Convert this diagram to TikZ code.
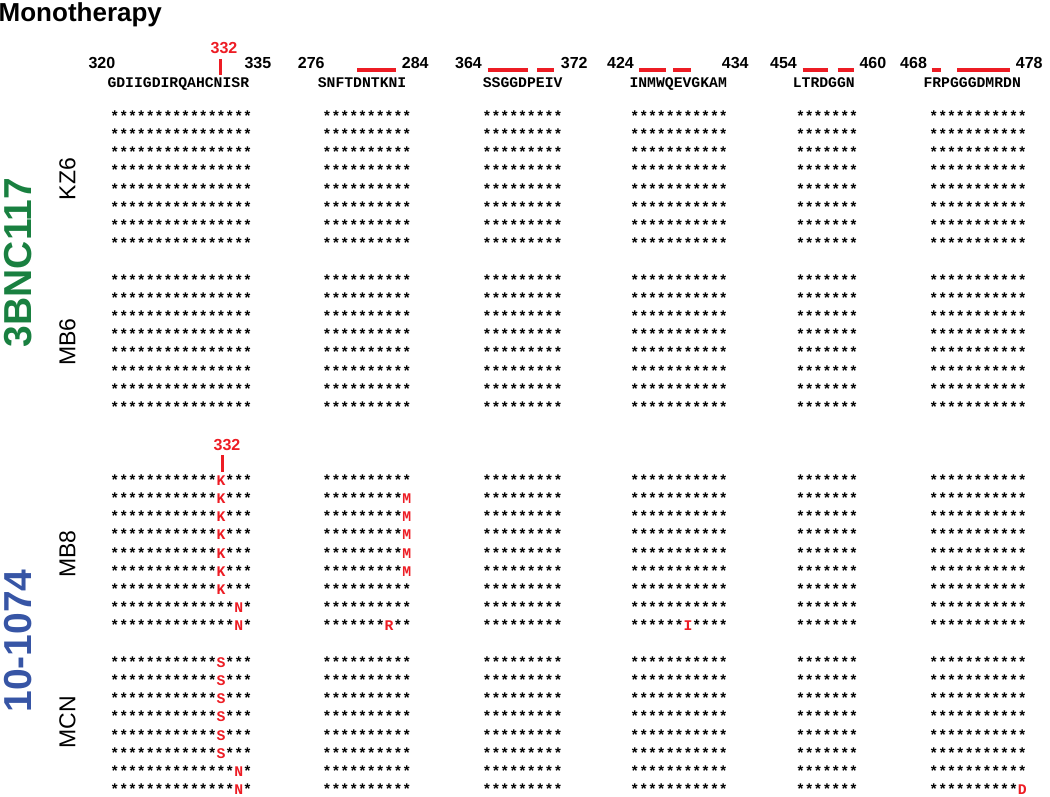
\documentclass[tikz,border=0pt]{standalone}
\usepackage{fontspec}
\setmainfont{Liberation Sans}
\setmonofont{Liberation Mono}

\definecolor{mutred}{RGB}{237,28,36}
\definecolor{abgreen}{RGB}{25,128,64}
\definecolor{abblue}{RGB}{55,85,165}
\newcommand{\mut}[1]{\textcolor{mutred}{#1}}

\tikzset{
  titletxt/.style={anchor=base west, inner sep=0pt, font=\bfseries\fontsize{26}{26}\selectfont},
  postxt/.style={anchor=base west, inner sep=0pt, font=\bfseries\fontsize{16}{16}\selectfont},
  sitetxt/.style={anchor=base, inner sep=0pt, text=mutred, font=\bfseries\fontsize{16}{16}\selectfont},
  seqtxt/.style={anchor=base west, inner sep=0pt, font=\ttfamily\bfseries\fontsize{14.75}{14.75}\selectfont},
  drugtxt/.style={rotate=90, inner sep=0pt, font=\bfseries\fontsize{39}{39}\selectfont},
  pttxt/.style={rotate=90, inner sep=0pt, font=\fontsize{23}{23}\selectfont},
  sitebar/.style={draw=mutred, line width=3.5pt},
  sitetick/.style={draw=mutred, line width=3pt}
}

\begin{document}
\begin{tikzpicture}[x=1pt,y=-1pt]
\useasboundingbox (0,0) rectangle (1050,797);

\node[titletxt] (title) at (-1.5,21.7) {Monotherapy};

% residue numbers
\foreach \n/\x in {320/88.3, 335/244.3, 276/297.7, 284/401.7, 364/455, 372/560.7,
  424/607, 434/721.7, 454/770, 460/859.3, 468/900, 478/1015.7}
{
\node[postxt] (p\n) at (\x,69) {\n};
}

% red bars
\foreach \a/\b in {357.3/396, 487.7/528.3, 537.3/554.3, 639.3/666, 673.3/690.7,
  802.7/828.3, 837.7/854.3, 931.7/940.7, 957.3/1010}
{
\draw[sitebar] (\a,70) -- (\b,70);
}

% site 332
\node[sitetxt] (site1) at (224,53.3) {332};
\draw[sitetick] (220,59.3) -- (220,75);
\node[sitetxt] (site2) at (227,450) {332};
\draw[sitetick] (222,455) -- (222,471.7);

% sequences
\foreach \c/\x/\s in {1/107.3/GDIIGDIRQAHCNISR, 2/317.6/SNFTDNTKNI, 3/482.6/SSGGDPEIV,
  4/629.3/INMWQEVGKAM, 5/792.6/LTRDGGN, 6/923.3/FRPGGGDMRDN}
{
\node[seqtxt] (seq\c) at (\x,87.5) {\s};
}

% 3BNC117: KZ6 and MB6
\foreach \k in {0,1,2,3,4,5,6,7,9,10,11,12,13,14,15,16}
{
\foreach \c/\x/\s in {1/110.2/****************, 2/322.5/**********, 3/482.5/*********,
  4/630.2/***********, 5/795.8/*******, 6/929.2/***********}
{
\node[seqtxt] (r\k-\c) at (\x,121.2+18.2*\k) {\s};
}
}

% 10-1074: MB8 and MCN
\foreach \k/\a/\b/\d/\f in {
  20/************\mut{K}***/**********/***********/***********,
  21/************\mut{K}***/*********\mut{M}/***********/***********,
  22/************\mut{K}***/*********\mut{M}/***********/***********,
  23/************\mut{K}***/*********\mut{M}/***********/***********,
  24/************\mut{K}***/*********\mut{M}/***********/***********,
  25/************\mut{K}***/*********\mut{M}/***********/***********,
  26/************\mut{K}***/**********/***********/***********,
  27/**************\mut{N}*/**********/***********/***********,
  28/**************\mut{N}*/*******\mut{R}**/******\mut{I}****/***********,
  30/************\mut{S}***/**********/***********/***********,
  31/************\mut{S}***/**********/***********/***********,
  32/************\mut{S}***/**********/***********/***********,
  33/************\mut{S}***/**********/***********/***********,
  34/************\mut{S}***/**********/***********/***********,
  35/************\mut{S}***/**********/***********/***********,
  36/**************\mut{N}*/**********/***********/***********,
  37/**************\mut{N}*/**********/***********/**********\mut{D}}
{
\node[seqtxt] (r\k-1) at (110.2,121.2+18.2*\k) {\a};
\node[seqtxt] (r\k-2) at (322.5,121.2+18.2*\k) {\b};
\node[seqtxt] (r\k-3) at (482.5,121.2+18.2*\k) {*********};
\node[seqtxt] (r\k-4) at (630.2,121.2+18.2*\k) {\d};
\node[seqtxt] (r\k-5) at (795.8,121.2+18.2*\k) {*******};
\node[seqtxt] (r\k-6) at (929.2,121.2+18.2*\k) {\f};
}

% antibodies and participants
\node[drugtxt, text=abgreen] (ab1) at (18.3,262.5) {3BNC117};
\node[drugtxt, text=abblue] (ab2) at (18.3,641) {10-1074};
\node[pttxt] (kz6) at (67.5,179) {KZ6};
\node[pttxt] (mb6) at (67.5,342) {MB6};
\node[pttxt] (mb8) at (67.5,554) {MB8};
\node[pttxt] (mcn) at (67.5,722) {MCN};
\end{tikzpicture}
\end{document}
